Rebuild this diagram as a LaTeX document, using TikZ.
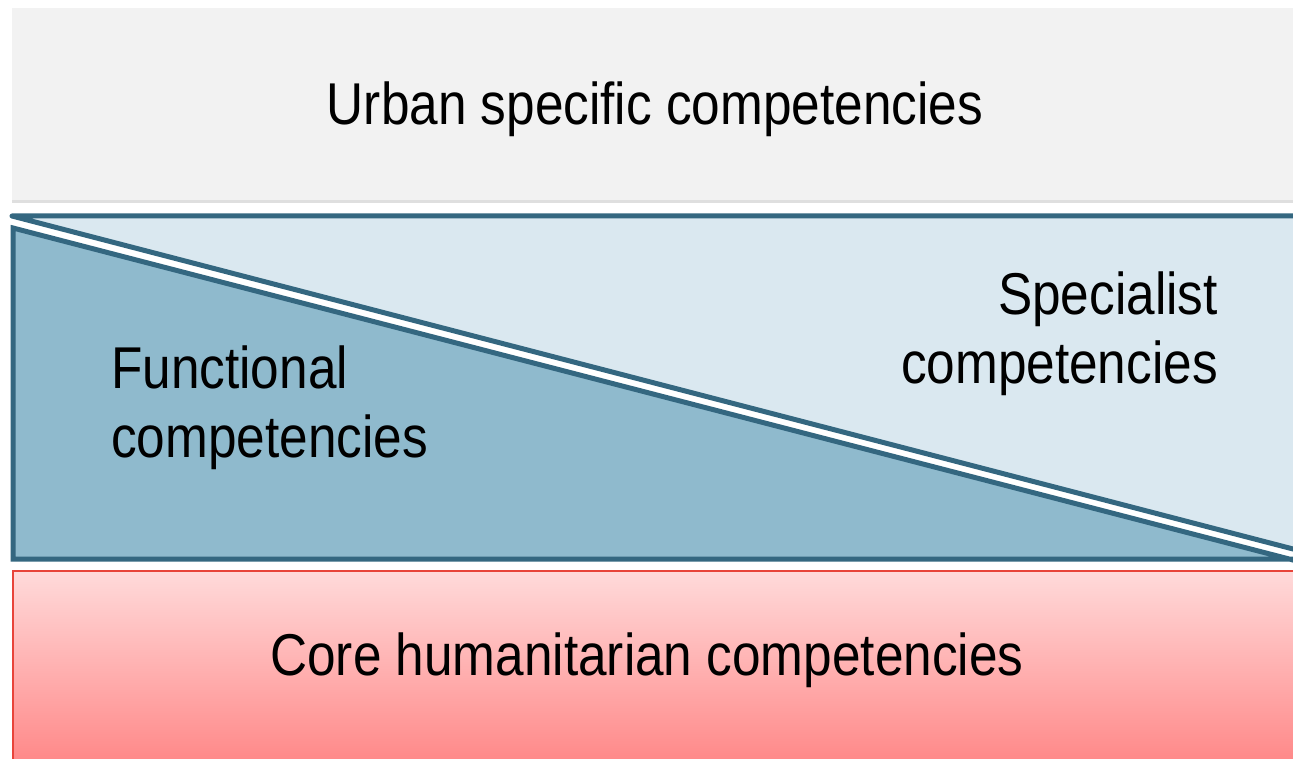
\documentclass[tikz,border=0pt]{standalone}
\usepackage{fontspec}
\setmainfont[FakeStretch=0.87]{Liberation Sans}
\usetikzlibrary{shadows}
\definecolor{boxgray}{HTML}{F2F2F2}
\definecolor{lightblue}{HTML}{DAE8F0}
\definecolor{midblue}{HTML}{8FBACD}
\definecolor{darkteal}{HTML}{346780}
\definecolor{redline}{HTML}{E8443A}
\definecolor{redtop}{HTML}{FFDADA}
\definecolor{redbot}{HTML}{FF8585}
\tikzset{
  lbl/.style={inner sep=0pt, font=\fontsize{59}{69}\selectfont, text=black},
  tri/.style={draw=darkteal, line width=5pt},
}
\begin{document}
\begin{tikzpicture}[x=1pt,y=-1pt]
\useasboundingbox (0,0) rectangle (1293,759);
\clip (0,0) rectangle (1293,759);
\fill[white] (0,0) rectangle (1293,759);
% top box
\path[fill=boxgray, drop shadow={opacity=0.25, shadow xshift=0pt, shadow yshift=-3pt}] (12,8) rectangle (1310,200);
% upper triangle
\path[tri, fill=lightblue, line join=round] (12,216) -- (1310,216) -- (1310,553.4) -- cycle;
% lower triangle
\path[tri, fill=midblue, line join=miter] (13,228) -- (13,559) -- (1293,559) -- (1293,560) -- cycle;
% bottom box
\path[top color=redtop, bottom color=redbot, draw=redline, line width=1.5pt] (13,571) rectangle (1310,770);
% labels
\node[lbl, anchor=base] (urban) at (655,125) {Urban specific competencies};
\node[lbl, anchor=base] (core) at (647,675) {Core humanitarian competencies};
\node[lbl, anchor=base west, align=left] (func) at (111,457) {Functional\\competencies};
\node[lbl, anchor=base east, align=right] (spec) at (1218,383) {Specialist\\competencies};
\end{tikzpicture}
\end{document}
